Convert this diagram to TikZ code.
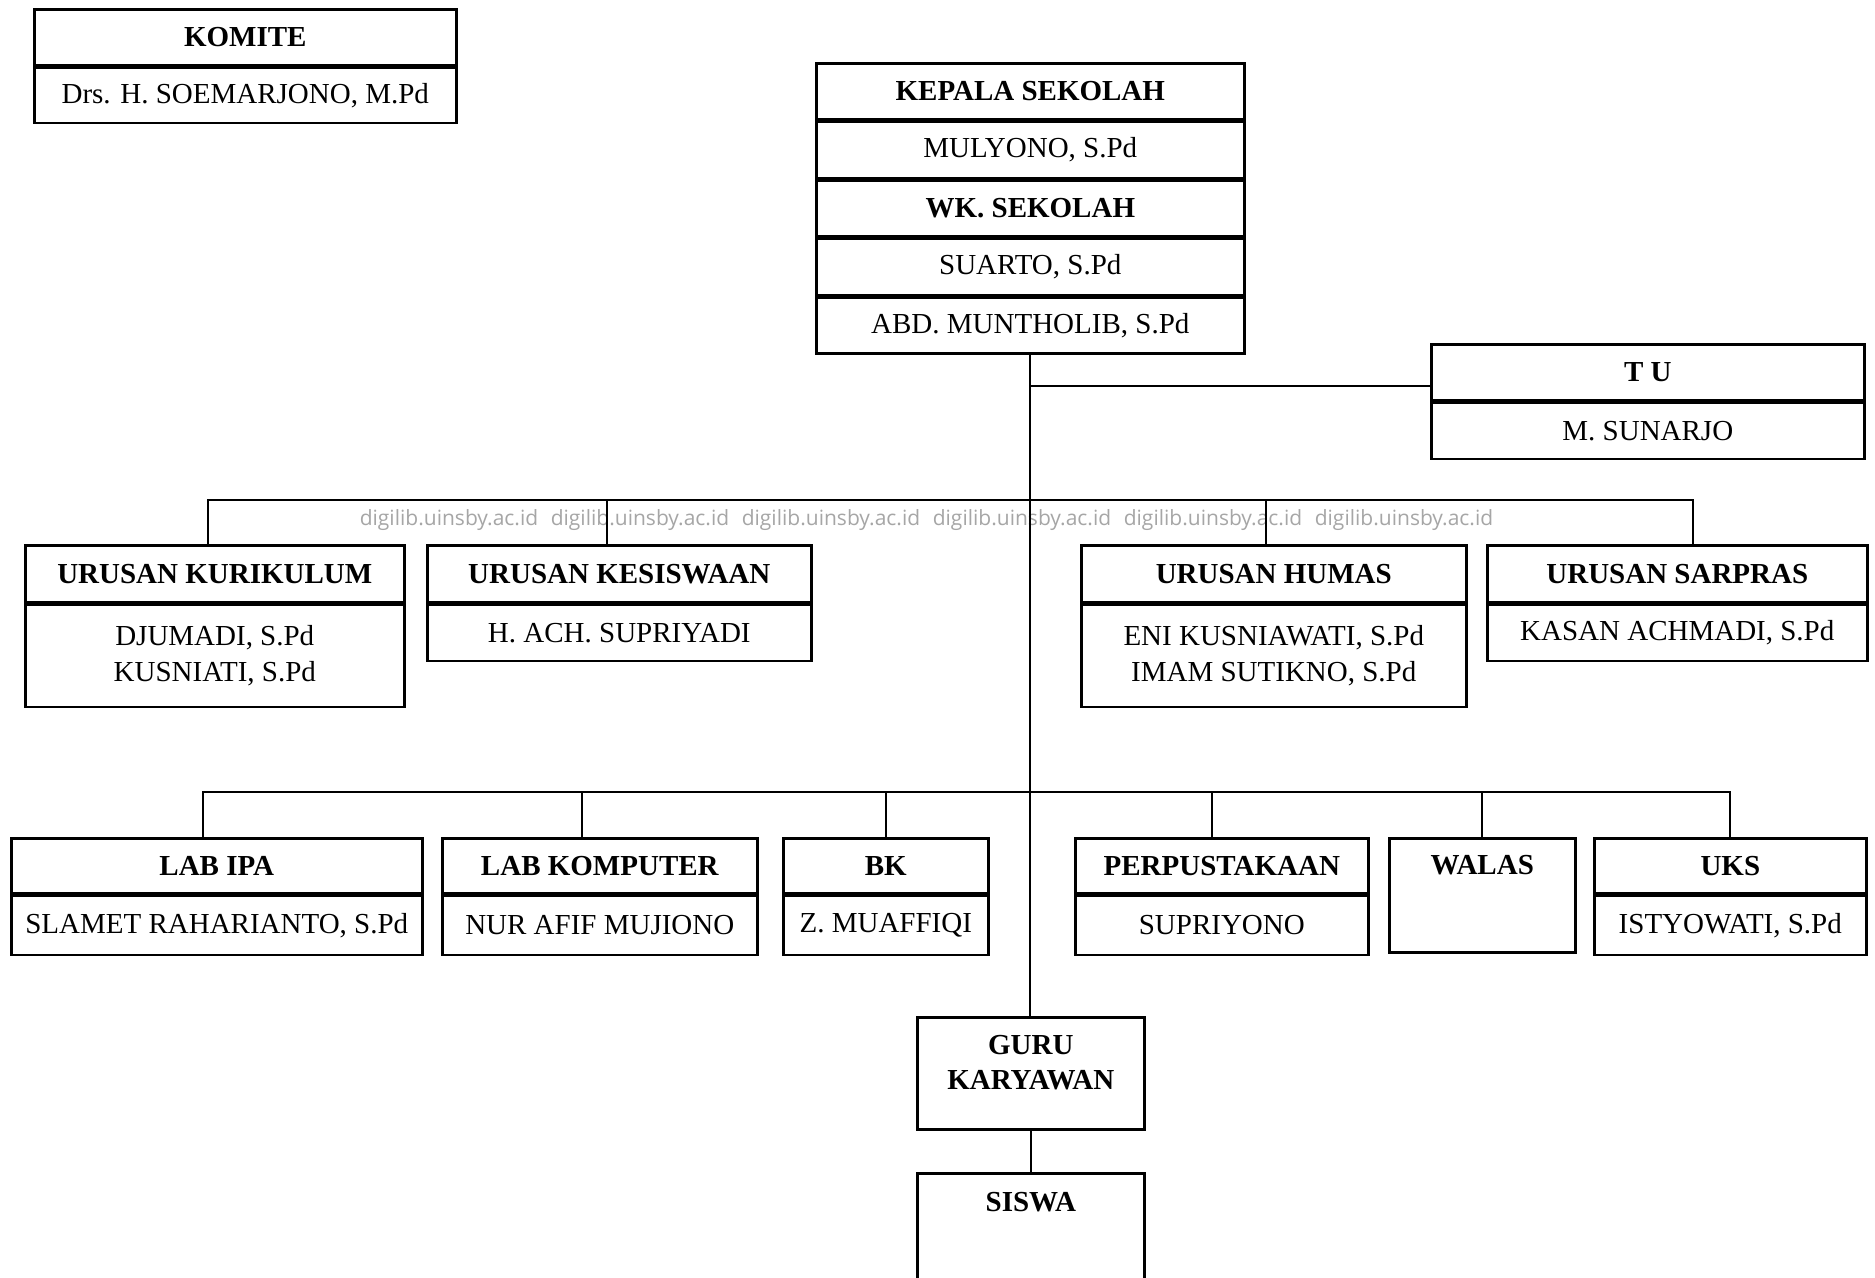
\documentclass[tikz,border=0pt]{standalone}
\usepackage{fontspec}
\setmainfont{Liberation Serif}
\newfontfamily\wmfont{Open Sans}
\begin{document}
\begin{tikzpicture}[x=0.5pt,y=-0.5pt]
\tikzset{
  cell/.style={draw, line width=1.3pt, inner sep=0pt, anchor=north west, align=center,
    font=\fontsize{14.5}{18}\selectfont},
  hd/.style={cell, font=\fontsize{14.5}{18}\selectfont\bfseries},
  hdtext/.style={font=\fontsize{14.5}{17.5}\selectfont\bfseries, align=center, inner sep=0pt},
  link/.style={line width=1.1pt},
  wm/.style={font=\wmfont\fontsize{10.5}{12}\selectfont, text=black!35, inner sep=0pt}
}
\path[fill=white] (0,0) rectangle (1875,1278);
\useasboundingbox (0,0) rectangle (1875,1278);

% KOMITE
\node[hd, minimum width=211pt, minimum height=28pt] (kom1) at (33,8) {KOMITE};
\node[cell, minimum width=211pt, minimum height=27.5pt] (kom2) at (kom1.south west) {Drs. H. SOEMARJONO, M.Pd};

% KEPALA SEKOLAH
\node[hd, minimum width=214pt, minimum height=28pt] (kep1) at (815,62) {KEPALA SEKOLAH};
\node[cell, minimum width=214pt, minimum height=28pt] (kep2) at (kep1.south west) {MULYONO, S.Pd};
\node[hd, minimum width=214pt, minimum height=28pt] (kep3) at (kep2.south west) {WK. SEKOLAH};
\node[cell, minimum width=214pt, minimum height=28pt] (kep4) at (kep3.south west) {SUARTO, S.Pd};
\node[cell, minimum width=214pt, minimum height=28pt] (kep5) at (kep4.south west) {ABD. MUNTHOLIB, S.Pd};

% TU
\node[hd, minimum width=216.5pt, minimum height=28pt] (tu1) at (1430,343) {T U};
\node[cell, minimum width=216.5pt, minimum height=28pt] (tu2) at (tu1.south west) {M. SUNARJO};

% Level 2
\node[hd, minimum width=189.5pt, minimum height=28.5pt] (kur1) at (24,544) {URUSAN KURIKULUM};
\node[cell, minimum width=189.5pt, minimum height=51pt] (kur2) at (kur1.south west) {DJUMADI, S.Pd\\KUSNIATI, S.Pd};
\node[hd, minimum width=192pt, minimum height=28.5pt] (kes1) at (426,544) {URUSAN KESISWAAN};
\node[cell, minimum width=192pt, minimum height=28pt] (kes2) at (kes1.south west) {H. ACH. SUPRIYADI};
\node[hd, minimum width=192.5pt, minimum height=28.5pt] (hum1) at (1080,544) {URUSAN HUMAS};
\node[cell, minimum width=192.5pt, minimum height=51pt] (hum2) at (hum1.south west) {ENI KUSNIAWATI, S.Pd\\IMAM SUTIKNO, S.Pd};
\node[hd, minimum width=190pt, minimum height=28.5pt] (sar1) at (1486,544) {URUSAN SARPRAS};
\node[cell, minimum width=190pt, minimum height=28pt] (sar2) at (sar1.south west) {KASAN ACHMADI, S.Pd};

% Level 3
\node[hd, minimum width=205.5pt, minimum height=27.5pt] (ipa1) at (10,837) {LAB IPA};
\node[cell, minimum width=205.5pt, minimum height=29.5pt] (ipa2) at (ipa1.south west) {SLAMET RAHARIANTO, S.Pd};
\node[hd, minimum width=157.5pt, minimum height=27.5pt] (lk1) at (441,837) {LAB KOMPUTER};
\node[cell, minimum width=157.5pt, minimum height=29.5pt] (lk2) at (lk1.south west) {NUR AFIF MUJIONO};
\node[hd, minimum width=102.5pt, minimum height=27.5pt] (bk1) at (782,837) {BK};
\node[cell, minimum width=102.5pt, minimum height=29.5pt] (bk2) at (bk1.south west) {Z. MUAFFIQI};
\node[hd, minimum width=146.5pt, minimum height=27.5pt] (per1) at (1074,837) {PERPUSTAKAAN};
\node[cell, minimum width=146.5pt, minimum height=29.5pt] (per2) at (per1.south west) {SUPRIYONO};
\node[cell, minimum width=93pt, minimum height=57pt,
  label={[hdtext, anchor=center, yshift=-14pt]north:WALAS}] (walas) at (1388,837) {};
\node[hd, minimum width=136pt, minimum height=27.5pt] (uks1) at (1593,837) {UKS};
\node[cell, minimum width=136pt, minimum height=29.5pt] (uks2) at (uks1.south west) {ISTYOWATI, S.Pd};

% GURU / SISWA
\node[cell, minimum width=113.5pt, minimum height=56pt,
  label={[hdtext, anchor=center, yshift=5.5pt]center:GURU\\KARYAWAN}] (guru) at (916,1016) {};
\node[cell, minimum width=113.5pt, minimum height=64pt,
  label={[hdtext, anchor=center, yshift=-15pt]north:SISWA}] (siswa) at (916,1172) {};

% watermark
\foreach \i/\x in {1/449,2/640,3/831,4/1022,5/1213,6/1404}
  \node[wm] (wm\i) at (\x,520) {digilib.uinsby.ac.id};

% connectors
\coordinate (tuy) at (0,386);
\coordinate (b2) at (0,500);
\coordinate (b3) at (0,792);
\coordinate (d1) at ([xshift=-3.5pt]kur1.north);
\coordinate (d2) at ([xshift=-6pt]kes1.north);
\coordinate (d3) at ([xshift=-4pt]hum1.north);
\coordinate (d4) at ([xshift=8pt]sar1.north);
\coordinate (e1) at ([xshift=-7pt]ipa1.north);
\coordinate (e2) at ([xshift=-9pt]lk1.north);
\coordinate (e4) at ([xshift=-5pt]per1.north);
\draw[link] (kep5.south) -- (kep5.south |- guru.north);
\draw[link] (kep5.south |- tuy) -- (tu1.west |- tuy);
\draw[link] (d1) |- (b2 -| d4) -- (d4);
\draw[link] (d2) -- (d2 |- b2);
\draw[link] (d3) -- (d3 |- b2);
\draw[link] (e1) |- (b3 -| uks1.north) -- (uks1.north);
\draw[link] (e2) -- (e2 |- b3);
\draw[link] (bk1.north) -- (bk1.north |- b3);
\draw[link] (e4) -- (e4 |- b3);
\draw[link] (walas.north) -- (walas.north |- b3);
\draw[link] (guru.south) -- (siswa.north);
\end{tikzpicture}
\end{document}
